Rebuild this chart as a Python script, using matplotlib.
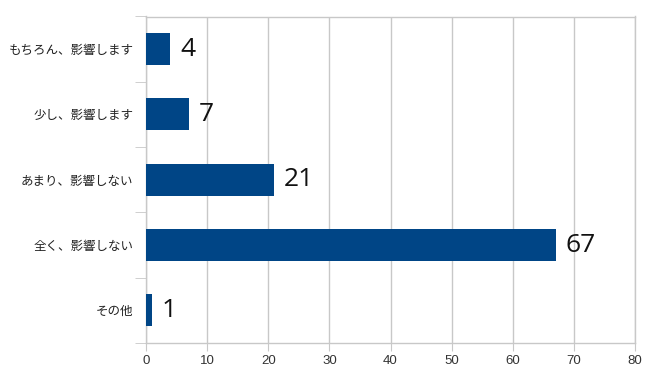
import matplotlib
matplotlib.use("Agg")
import matplotlib.pyplot as plt
import numpy as np

plt.rcParams['font.family'] = ['Noto Sans CJK JP', 'DejaVu Sans']

# data (top to bottom)
categories = ['もちろん、影響します', '少し、影響します', 'あまり、影響しない', '全く、影響しない', 'その他']
values = [4, 7, 21, 67, 1]
xticks = [0, 10, 20, 30, 40, 50, 60, 70, 80]

BAR = '#004586'
GRID = '#c8c8c8'

fig = plt.figure(figsize=(6.5, 3.83), dpi=100)
ax = fig.add_axes([146 / 650, 1 - 343 / 383, (635 - 146) / 650, (343 - 16.5) / 383])

y = np.arange(len(categories))
ax.barh(y, values, height=0.49, color=BAR, zorder=3)
ax.set_ylim(len(categories) - 0.5, -0.5)
ax.set_xlim(0, 80)

for yi, v in zip(y, values):
    ax.annotate(str(v), (v, yi), xytext=(7, 0), textcoords='offset points',
                va='center', ha='left', fontsize=19,
                family=['Open Sans', 'DejaVu Sans'], color='#111111')

# grid
ax.set_xticks(xticks)
ax.xaxis.grid(True, color=GRID, linewidth=1, zorder=0)
for s in ['top', 'bottom', 'left', 'right']:
    ax.spines[s].set_color(GRID)
    ax.spines[s].set_linewidth(1)

ax.tick_params(axis='x', direction='out', length=6, color=GRID, labelsize=9.5,
               labelcolor='#333333', pad=3)
ax.set_xticklabels([str(t) for t in xticks], family=['Liberation Sans', 'DejaVu Sans'])

ax.set_yticks(y)
ax.set_yticklabels(categories)
ax.set_yticks(np.arange(-0.5, len(categories), 1.0), minor=True)
ax.tick_params(axis='y', which='major', length=0, labelsize=9, labelcolor='#222222', pad=9)
ax.tick_params(axis='y', which='minor', length=8, color=GRID, direction='out')

fig.savefig('out.png', dpi=100, facecolor='white')
